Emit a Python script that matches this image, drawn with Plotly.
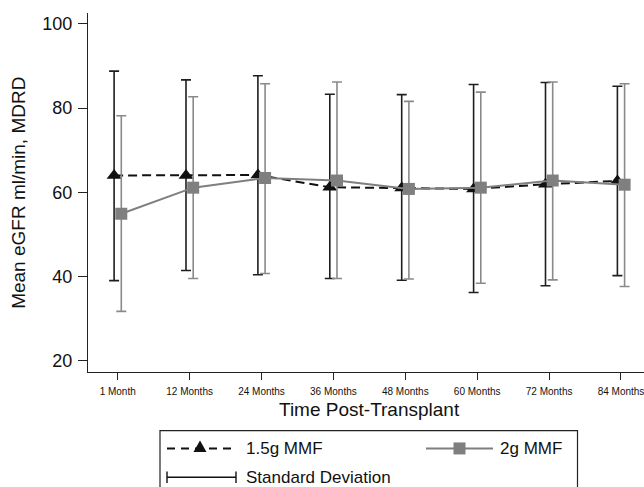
import numpy as np
import plotly.graph_objects as go

categories = ["1 Month", "12 Months", "24 Months", "36 Months",
              "48 Months", "60 Months", "72 Months", "84 Months"]
mmf15_mean = [64.0, 64.0, 64.1, 61.2, 61.0, 60.8, 61.9, 62.7]
mmf15_upper = [88.8, 86.7, 87.7, 83.3, 83.2, 85.6, 86.1, 85.2]
mmf15_lower = [39.0, 41.4, 40.4, 39.5, 39.1, 36.2, 37.8, 40.2]
mmf2_mean = [54.9, 61.1, 63.4, 62.8, 60.8, 61.1, 62.8, 61.8]
mmf2_upper = [78.2, 82.7, 85.8, 86.2, 81.6, 83.8, 86.2, 85.8]
mmf2_lower = [31.7, 39.5, 40.7, 39.5, 39.4, 38.4, 39.2, 37.6]
y_ticks = [20, 40, 60, 80, 100]

idx = np.arange(len(categories))
off = 0.05

def plus(m, u):
    return [a - b for a, b in zip(u, m)]

def minus(m, l):
    return [a - b for a, b in zip(m, l)]

BLACK = "#111111"
GRAY = "#7f7f7f"
DASH = "9px,5px"

fig = go.Figure()
fig.add_trace(go.Scatter(
    x=idx - off, y=mmf15_mean, mode="lines+markers", name="1.5g MMF",
    line=dict(color=BLACK, width=2, dash=DASH),
    marker=dict(symbol="triangle-up", size=13, color=BLACK),
    error_y=dict(type="data", symmetric=False, array=plus(mmf15_mean, mmf15_upper),
                 arrayminus=minus(mmf15_mean, mmf15_lower), color="#1e1e1e",
                 thickness=1.6, width=5),
))
fig.add_trace(go.Scatter(
    x=idx + off, y=mmf2_mean, mode="lines+markers", name="2g MMF",
    line=dict(color=GRAY, width=2),
    marker=dict(symbol="square", size=12, color=GRAY),
    error_y=dict(type="data", symmetric=False, array=plus(mmf2_mean, mmf2_upper),
                 arrayminus=minus(mmf2_mean, mmf2_lower), color="#8a8a8a",
                 thickness=1.6, width=5),
))

# geometry in pixels
L, R, T, B = 88, 644, 13, 372.3
W, H = 644, 487

def px(x):
    return (x - L) / (R - L)

def py(y):
    return (B - y) / (B - T)

shapes = []
annotations = []
# legend box
shapes.append(dict(type="rect", xref="paper", yref="paper",
                   x0=px(160), x1=px(577.5), y0=py(431), y1=py(495),
                   line=dict(color="#222222", width=1.2), fillcolor="rgba(0,0,0,0)"))
row1, row2 = 448.8, 477.7
# 1.5g legend line
shapes.append(dict(type="line", xref="paper", yref="paper",
                   x0=px(167), x1=px(235), y0=py(row1), y1=py(row1),
                   line=dict(color=BLACK, width=2, dash="8px,6px")))
tx = 200
shapes.append(dict(type="path", xref="paper", yref="paper",
                   path=f"M {px(tx-6.5)} {py(row1+3.5)} L {px(tx+6.5)} {py(row1+3.5)} L {px(tx)} {py(row1-8)} Z",
                   fillcolor=BLACK, line=dict(width=0)))
# 2g legend line
shapes.append(dict(type="line", xref="paper", yref="paper",
                   x0=px(426), x1=px(493), y0=py(row1), y1=py(row1),
                   line=dict(color=GRAY, width=2)))
shapes.append(dict(type="rect", xref="paper", yref="paper",
                   x0=px(453.5), x1=px(465.5), y0=py(row1 + 6), y1=py(row1 - 6),
                   fillcolor=GRAY, line=dict(width=0)))
# SD legend
shapes.append(dict(type="line", xref="paper", yref="paper",
                   x0=px(167), x1=px(236), y0=py(row2), y1=py(row2),
                   line=dict(color=BLACK, width=1.4)))
for xx in (167, 236):
    shapes.append(dict(type="line", xref="paper", yref="paper",
                       x0=px(xx), x1=px(xx), y0=py(row2 - 5.8), y1=py(row2 + 5.8),
                       line=dict(color=BLACK, width=1.4)))

for text, x, y in [("1.5g MMF", 245, row1), ("2g MMF", 499, row1),
                   ("Standard Deviation", 245, row2)]:
    annotations.append(dict(text=text, xref="paper", yref="paper", x=px(x), y=py(y),
                            xanchor="left", yanchor="middle", showarrow=False,
                            borderpad=0, font=dict(size=17, color="#111111")))

annotations.append(dict(text="Time Post-Transplant", xref="paper", yref="paper",
                        x=px(369), y=py(410), xanchor="center", yanchor="middle",
                        borderpad=0, showarrow=False, font=dict(size=19, color="#111111")))
annotations.append(dict(text="Mean eGFR ml/min, MDRD", xref="paper", yref="paper",
                        x=px(19), y=py(193), xanchor="center", yanchor="middle",
                        textangle=-90, showarrow=False, borderpad=0,
                        font=dict(size=19, color="#111111")))

fig.update_layout(
    width=W, height=H,
    margin=dict(l=L, r=W - R, t=T, b=H - B, pad=0),
    paper_bgcolor="white", plot_bgcolor="white",
    showlegend=False,
    font=dict(family="Liberation Sans, Arial, sans-serif", color="#111111"),
    shapes=shapes, annotations=annotations,
)
fig.update_xaxes(
    range=[-0.413, 7.32], tickmode="array", tickvals=list(idx), ticktext=categories,
    showgrid=False, zeroline=False, showline=True, linecolor="#222222", linewidth=1.2,
    ticks="outside", ticklen=7, tickcolor="#222222", tickwidth=1.2,
    tickfont=dict(size=10), fixedrange=True, ticklabeloverflow="allow",
    ticklabelstandoff=3,
)
fig.update_yaxes(
    range=[17.3, 102.6], tickmode="array", tickvals=y_ticks,
    showgrid=False, zeroline=False, showline=True, linecolor="#222222", linewidth=1.2,
    ticks="outside", ticklen=9, tickcolor="#222222", tickwidth=1.2,
    tickfont=dict(size=18), fixedrange=True, ticklabelstandoff=2,
)

fig.write_html(
    "out.html",
    config={"displayModeBar": False},
    post_script="document.body.style.margin='0';document.body.style.overflow='hidden';",
)
